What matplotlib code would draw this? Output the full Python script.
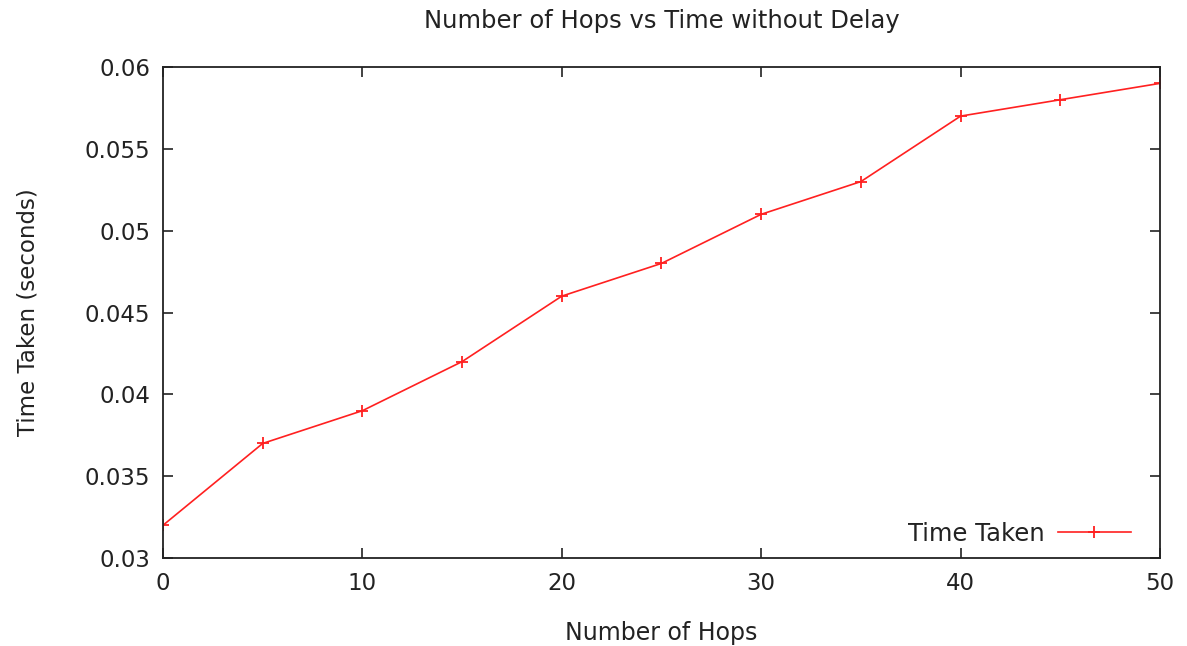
import matplotlib
matplotlib.use("Agg")
import matplotlib.pyplot as plt

hops = [0, 5, 10, 15, 20, 25, 30, 35, 40, 45, 50]
time_taken = [0.032, 0.037, 0.039, 0.042, 0.046, 0.048, 0.051, 0.053, 0.057, 0.058, 0.059]
yticks = [0.03, 0.035, 0.04, 0.045, 0.05, 0.055, 0.06]
ytick_labels = ["0.03", "0.035", "0.04", "0.045", "0.05", "0.055", "0.06"]

fig = plt.figure(figsize=(11.87, 6.46), dpi=100)
ax = fig.add_axes([163 / 1187, 1 - 558 / 646, (1160 - 163) / 1187, (558 - 67) / 646])

ax.plot(hops, time_taken, color="#ff2020", lw=1.2, marker="+", ms=9, mew=1.3,
        label="Time Taken")

ax.set_xlim(0, 50)
ax.set_ylim(0.03, 0.06)
ax.set_xticks(range(0, 51, 10))
ax.set_yticks(yticks)
ax.set_yticklabels(ytick_labels)
ax.tick_params(direction="in", top=True, right=True, length=7, width=1.2,
               labelsize=16.5, pad=9, colors="#222222")
ax.tick_params(axis="x", pad=10)
for s in ax.spines.values():
    s.set_linewidth(1.3)
    s.set_color("#222222")

ax.set_xlabel("Number of Hops", fontsize=17, labelpad=19, color="#222222")
ax.set_ylabel("Time Taken (seconds)", fontsize=16.5, labelpad=33, color="#222222")
ax.set_title("Number of Hops vs Time without Delay", fontsize=17.5, pad=28, color="#222222")

ax.legend(loc="lower right", bbox_to_anchor=(1 - 10 / 997, -7 / 491),
          frameon=False, markerfirst=False, fontsize=17.5,
          handlelength=3.0, handletextpad=0.55, borderaxespad=0.4, labelcolor="#222222")

fig.savefig("out.png", dpi=100)
